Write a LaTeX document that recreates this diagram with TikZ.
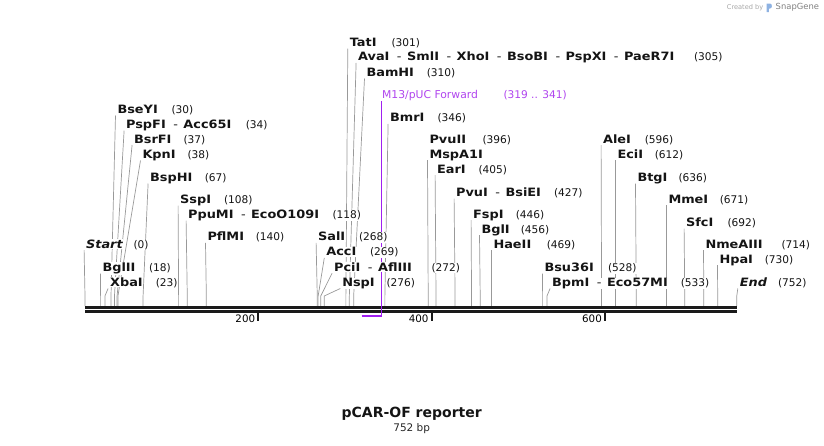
\documentclass[tikz,border=0pt]{standalone}
\usepackage{fontspec}
\setmainfont{DejaVu Sans}
\newfontfamily\labfont[FakeStretch=1.12]{DejaVu Sans}
\usetikzlibrary{backgrounds}
\definecolor{cutgray}{HTML}{999999}
\definecolor{prim}{HTML}{A020F0}
\definecolor{primtxt}{HTML}{B045EE}
\definecolor{seq}{HTML}{1A1A1A}
\tikzset{
  lab/.style={inner sep=0.6pt, anchor=base west, fill=white, text=black!92,
    font=\labfont\fontsize{11.5}{12}\selectfont\bfseries},
  numlab/.style={inner sep=0.6pt, anchor=base west, fill=white, text=black!92,
    font=\fontsize{10.6}{12}\selectfont},
  cut/.style={draw=cutgray, line width=0.7pt},
  ticklab/.style={inner sep=0pt, anchor=east, font=\fontsize{10.3}{12}\selectfont},
  tickmark/.style={draw=seq, line width=2pt},
}
\newcommand\sepd{\hspace{7.5pt}{\mdseries-}\hspace{5.5pt}}
% id, label x, label center y, label text, number, number x, site
\newcommand\enz[7]{%
  \node[lab] (#1) at (#2,#3+4.2) {#4};
  \node[numlab] (#1n) at (#6,#3+4.2) {(#5)};
  \coordinate (#1b) at (#7*0.8667+85,296);
  \coordinate (#1c) at (#7*0.8667+85,306);
  \begin{pgfonlayer}{background}
  \draw[cut] ([xshift=-1.2pt,yshift=-2pt]#1.base west) -- (#1b) -- (#1c);
  \end{pgfonlayer}}
\begin{document}
\begin{tikzpicture}[x=1pt,y=-1pt]
\useasboundingbox (0,0) rectangle (824,445);
% sequence
\fill[seq] (85,305.7) rectangle (737,308.9);
\fill[seq] (85,310.3) rectangle (737,312.6);
% ticks
\foreach \p/\n in {200/t2,400/t4,600/t6}{
  \coordinate (\n a) at (\p*0.8667+85,313);
  \coordinate (\n b) at (\p*0.8667+85,320.5);
  \draw[tickmark] (\n a) -- (\n b);
  \node[ticklab] (\n l) at (\p*0.8667+82,319) {\p};
}
% primer
\coordinate (pa) at (361.5,315.8);
\coordinate (pb) at (381.3,315.8);
\draw[prim, line width=2pt] (pa) -- (pb);
\node[inner sep=0.6pt, anchor=base west, text=primtxt, font=\fontsize{10.8}{12}\selectfont] (m13) at (381.3,98.2) {M13/pUC Forward};
\node[inner sep=0.6pt, anchor=base west, text=primtxt, font=\fontsize{10.6}{12}\selectfont] (m13n) at (502.7,98.2) {(319 .. 341)};
\coordinate (m13t) at (381.3,101);
\coordinate (m13e) at (381.3,316.8);
\draw[prim, line width=0.9pt] (m13t) -- (m13e);
% left cluster
\enz{bse}{116.7}{109.3}{BseYI}{30}{170.7}{30}
\enz{psp}{125.3}{124.5}{PspFI\sepd Acc65I}{34}{245}{34}
\enz{bsr}{133.3}{138.8}{BsrFI}{37}{182.7}{37}
\enz{kpn}{141.7}{154.3}{KpnI}{38}{186.7}{38}
\enz{bsp}{149.3}{177.3}{BspHI}{67}{204}{67}
\enz{ssp}{179.3}{199.3}{SspI}{108}{223.3}{108}
\enz{ppu}{187.3}{214.3}{PpuMI\sepd EcoO109I}{118}{331.7}{118}
\enz{pfl}{206.7}{236.7}{PflMI}{140}{255}{140}
\enz{sta}{85.3}{244}{\itshape Start}{0}{132.7}{0}
\enz{bgl2}{101.7}{267.3}{BglII}{18}{148.3}{18}
\enz{xba}{109.3}{282.3}{XbaI}{23}{155}{23}
% middle cluster
\enz{sal}{317.3}{236.7}{SalI}{268}{358.3}{268}
\enz{acc}{325.5}{251.7}{AccI}{269}{369.3}{269}
\enz{pci}{333.3}{267}{PciI\sepd AflIII}{272}{430.7}{272}
\enz{nsp}{341.5}{282.3}{NspI}{276}{385.7}{276}
\enz{tat}{349}{42.3}{TatI}{301}{390.7}{301}
\enz{ava}{357.3}{56.7}{AvaI\sepd SmlI\sepd XhoI\sepd BsoBI\sepd PspXI\sepd PaeR7I}{305}{693.3}{305}
\enz{bam}{365.7}{72.3}{BamHI}{310}{426}{310}
\enz{bmr}{389.3}{117.7}{BmrI}{346}{436.7}{346}
\node[lab] (pvu2) at (428.7,143.2) {PvuII};
\node[numlab] (pvu2n) at (481.7,143.2) {(396)};
\node[lab] (msp) at (428.7,158.2) {MspA1I};
\coordinate (mspb) at (396*0.8667+85,296);
\coordinate (mspc) at (396*0.8667+85,306);
\begin{pgfonlayer}{background}
\draw[cut] ([xshift=-1.2pt,yshift=-2pt]msp.base west) -- (mspb) -- (mspc);
\end{pgfonlayer}
\enz{ear}{436.3}{169}{EarI}{405}{477.7}{405}
\enz{pvu1}{455.3}{192.3}{PvuI\sepd BsiEI}{427}{553.3}{427}
\enz{fsp}{472.3}{214}{FspI}{446}{515}{446}
\enz{bgl1}{480.7}{229}{BglI}{456}{520}{456}
\enz{hae}{492.7}{244}{HaeII}{469}{546}{469}
\enz{bsu}{543.7}{267.3}{Bsu36I}{528}{607.3}{528}
\enz{bpm}{551.3}{282.3}{BpmI\sepd Eco57MI}{533}{680}{533}
% right cluster
\enz{ale}{602.3}{139}{AleI}{596}{644}{596}
\enz{eci}{616.7}{154}{EciI}{612}{654}{612}
\enz{btg}{636.7}{177.3}{BtgI}{636}{677.7}{636}
\enz{mme}{667.7}{199}{MmeI}{671}{719}{671}
\enz{sfc}{685.3}{222.3}{SfcI}{692}{726.7}{692}
\enz{nme}{704.7}{244}{NmeAIII}{714}{780.7}{714}
\enz{hpa}{718.7}{259}{HpaI}{730}{764}{730}
\enz{end}{739}{282.3}{\itshape End}{752}{777.3}{752}
% title
\node[inner sep=0pt, font=\fontsize{14}{16}\selectfont\bfseries, text=black!92] (title) at (411.7,414) {pCAR-OF reporter};
\node[inner sep=0pt, font=\fontsize{10.5}{12}\selectfont, text=black!85] (bp) at (411.7,429) {752 bp};
% credit
\node[inner sep=0pt, anchor=west, font=\fontsize{6.6}{8}\selectfont, text=black!35] (cr) at (726.7,7.5) {Created by};
\fill[cyan!55!blue!45] (766.5,12) -- (766.5,3.5) -- (770,3.5) .. controls (772.5,3.5) and (772.5,8.5) .. (770,8.5) -- (768.8,8.5) -- (768.8,12) -- cycle;
\node[inner sep=0pt, anchor=west, font=\fontsize{8.4}{10}\selectfont, text=black!50] (sg) at (775.5,7.5) {SnapGene};
\end{tikzpicture}
\end{document}
